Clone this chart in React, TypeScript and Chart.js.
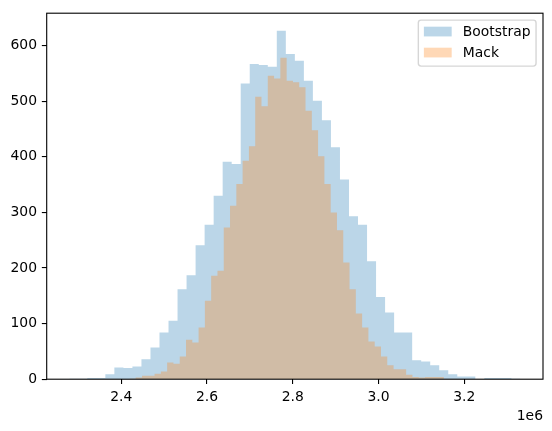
import React, { useEffect, useRef } from "react";
import { Chart, registerables } from "chart.js";

Chart.register(...registerables);

// ---- data ----
const seriesLabels = ["Bootstrap", "Mack"];
const seriesColors = ["rgba(31,119,180,0.3)", "rgba(255,127,14,0.3)"];

const bootstrapBinStart = 2278600;
const bootstrapBinWidth = 21048;
const bootstrapCounts = [
  1, 1, 2, 2, 9, 21, 20, 23, 36, 57,
  84, 105, 162, 187, 241, 278, 330, 391, 387, 532,
  567, 565, 562, 627, 585, 573, 537, 501, 466, 417,
  359, 293, 278, 212, 148, 120, 84, 84, 34, 32,
  25, 16, 9, 5, 5, 0, 2, 2, 2, 1,
];

const mackBinStart = 2418900;
const mackBinWidth = 14671;
const mackCounts = [
  1, 3, 6, 6, 10, 14, 30, 28, 41, 71,
  66, 93, 141, 186, 195, 273, 312, 351, 393, 419,
  508, 491, 546, 541, 578, 537, 534, 525, 483, 448,
  401, 351, 300, 268, 210, 162, 118, 93, 68, 59,
  41, 25, 18, 18, 8, 4, 3, 4, 4, 4,
];

const xTickValues = [2400000, 2600000, 2800000, 3000000, 3200000];
const yTickValues = [0, 100, 200, 300, 400, 500, 600];
const xOffsetLabel = "1e6";

// ---- helpers ----
function histPoints(start: number, width: number, counts: number[]) {
  const pts = counts.map((c, i) => ({ x: start + i * width, y: c }));
  pts.push({ x: start + counts.length * width, y: 0 });
  return pts;
}

const FONT = "DejaVu Sans";
const FS = 13.9;

const decorPlugin = {
  id: "mplDecor",
  afterDatasetsDraw(chart: any) {
    const { ctx, chartArea } = chart;
    const { left, right, top, bottom } = chartArea;
    ctx.save();
    // spines
    ctx.strokeStyle = "#000";
    ctx.lineWidth = 1.1;
    ctx.strokeRect(left, top, right - left, bottom - top);

    // legend
    const pad = 0.5 * FS;
    const borderPad = 0.4 * FS;
    const handleLen = 2.0 * FS;
    const handleH = 0.7 * FS;
    const textPad = 0.8 * FS;
    ctx.font = `${FS}px "${FONT}"`;
    const labels = chart.data.datasets.map((d: any) => d.label);
    const textW = Math.max(...labels.map((l: string) => ctx.measureText(l).width));
    const boxW = borderPad * 2 + handleLen + textPad + textW;
    const boxH = 46;
    const bx = right - pad - boxW;
    const by = top + pad;
    const r = 0.2 * FS;
    ctx.beginPath();
    ctx.moveTo(bx + r, by);
    ctx.lineTo(bx + boxW - r, by);
    ctx.arcTo(bx + boxW, by, bx + boxW, by + r, r);
    ctx.lineTo(bx + boxW, by + boxH - r);
    ctx.arcTo(bx + boxW, by + boxH, bx + boxW - r, by + boxH, r);
    ctx.lineTo(bx + r, by + boxH);
    ctx.arcTo(bx, by + boxH, bx, by + boxH - r, r);
    ctx.lineTo(bx, by + r);
    ctx.arcTo(bx, by, bx + r, by, r);
    ctx.closePath();
    ctx.fillStyle = "rgba(255,255,255,0.8)";
    ctx.fill();
    ctx.strokeStyle = "rgba(204,204,204,0.8)";
    ctx.lineWidth = 1.39;
    ctx.stroke();

    chart.data.datasets.forEach((d: any, i: number) => {
      const cy = by + 11.4 + i * 21;
      const hx = bx + borderPad;
      ctx.fillStyle = d.backgroundColor;
      ctx.fillRect(hx, cy - handleH / 2, handleLen, handleH);
      ctx.fillStyle = "#000";
      ctx.textAlign = "left";
      ctx.textBaseline = "alphabetic";
      ctx.fillText(d.label, hx + handleLen + textPad, cy + 4.6);
    });

    // offset text
    ctx.fillStyle = "#000";
    ctx.textAlign = "right";
    ctx.textBaseline = "alphabetic";
    ctx.fillText(xOffsetLabel, right, 420.3);
    ctx.restore();
  },
};

export default function App() {
  const canvasRef = useRef<HTMLCanvasElement | null>(null);

  useEffect(() => {
    document.body.style.margin = "0";
    const canvas = canvasRef.current;
    if (!canvas) return;

    const bootEnd = bootstrapBinStart + bootstrapCounts.length * bootstrapBinWidth;
    const mackEnd = mackBinStart + mackCounts.length * mackBinWidth;
    const dMin = Math.min(bootstrapBinStart, mackBinStart);
    const dMax = Math.max(bootEnd, mackEnd);
    const span = dMax - dMin;
    const yMaxCount = Math.max(...bootstrapCounts, ...mackCounts);

    const tickFont = { family: FONT, size: FS };

    const chart = new Chart(canvas, {
      type: "line",
      data: {
        datasets: [
          {
            label: seriesLabels[0],
            data: histPoints(bootstrapBinStart, bootstrapBinWidth, bootstrapCounts),
            stepped: true,
            fill: "origin",
            backgroundColor: seriesColors[0],
            borderColor: "rgba(0,0,0,0)",
            borderWidth: 0,
            pointRadius: 0,
            order: 2,
          },
          {
            label: seriesLabels[1],
            data: histPoints(mackBinStart, mackBinWidth, mackCounts),
            stepped: true,
            fill: "origin",
            backgroundColor: seriesColors[1],
            borderColor: "rgba(0,0,0,0)",
            borderWidth: 0,
            pointRadius: 0,
            order: 1,
          },
        ],
      },
      options: {
        animation: false,
        responsive: true,
        maintainAspectRatio: false,
        events: [],
        layout: { padding: { top: 10.3, right: 9, left: 0, bottom: 0 } },
        plugins: {
          legend: { display: false },
          tooltip: { enabled: false },
          title: { display: false },
        },
        scales: {
          x: {
            type: "linear",
            min: dMin - 0.05 * span,
            max: dMax + 0.05 * span,
            afterFit: (s: any) => {
              s.height = 51.8;
            },
            afterBuildTicks: (s: any) => {
              s.ticks = xTickValues.map((v) => ({ value: v }));
            },
            grid: {
              display: true,
              drawOnChartArea: false,
              drawTicks: true,
              tickLength: 4.86,
              color: "#000",
              lineWidth: 1.1,
            },
            border: { display: false },
            ticks: {
              autoSkip: false,
              maxRotation: 0,
              padding: 4.86,
              color: "#000",
              font: tickFont,
              callback: (v: any) => (Number(v) / 1e6).toFixed(1),
            },
          },
          y: {
            type: "linear",
            min: 0,
            max: yMaxCount * 1.05,
            afterFit: (s: any) => {
              s.width = 46.7;
            },
            afterBuildTicks: (s: any) => {
              s.ticks = yTickValues.map((v) => ({ value: v }));
            },
            grid: {
              display: true,
              drawOnChartArea: false,
              drawTicks: true,
              tickLength: 4.86,
              color: "#000",
              lineWidth: 1.1,
            },
            border: { display: false },
            ticks: {
              autoSkip: false,
              padding: 4.86,
              color: "#000",
              font: tickFont,
              callback: (v: any) => String(v),
            },
          },
        },
      },
      plugins: [decorPlugin],
    });

    return () => chart.destroy();
  }, []);

  return (
    <div style={{ position: "fixed", left: 0, top: 0, width: 552, height: 431, background: "#fff" }}>
      <canvas ref={canvasRef} />
    </div>
  );
}
